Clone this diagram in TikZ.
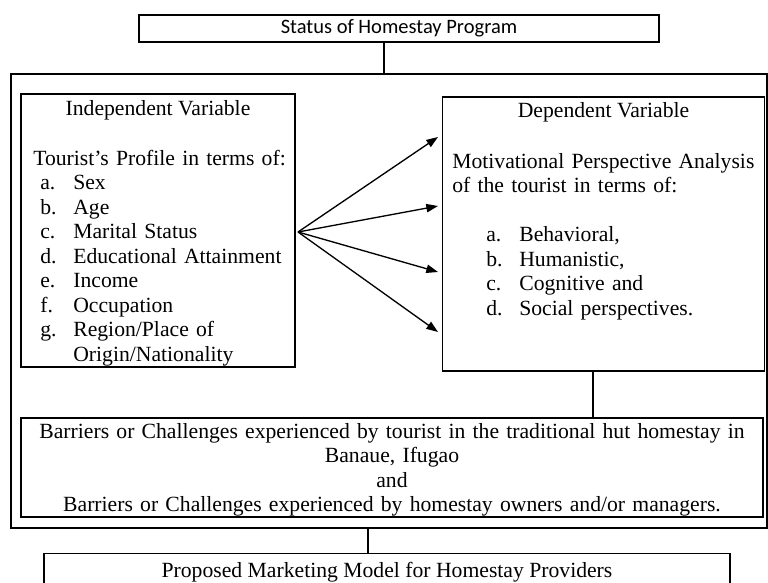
\documentclass[tikz,border=0pt]{standalone}
\usepackage{fontspec}
\setmainfont{Liberation Serif}
\newfontfamily\headfont{Carlito}
\usetikzlibrary{arrows.meta}
\usetikzlibrary{positioning}
\usetikzlibrary{calc}

\newcommand{\listitem}[2]{\hspace*{4.2pt}\makebox[19.8pt][l]{#1}#2}
\newcommand{\depitem}[2]{\hspace*{20.4pt}\makebox[19.8pt][l]{#1}#2}

\begin{document}
\begin{tikzpicture}[x=0.6pt,y=-0.6pt]
  \tikzset{
    box/.style={draw,line width=0.8pt,inner sep=0pt},
    txt/.style={inner sep=0pt,font=\fontsize{13}{14.7}\selectfont},
    link/.style={line width=0.8pt},
    arr/.style={line width=0.8pt,-{Triangle[length=7pt,width=5pt]}}
  }
    \clip (0,0) rectangle (768,582);
    %TOP BOX
    \node[box,minimum width=312pt,minimum height=16.2pt,font=\headfont\fontsize{12.3}{14}\selectfont] (status) at (399,28.5) {Status of Homestay Program};
    %FRAME
    \node[box,line width=1pt,minimum width=453.6pt,minimum height=272.4pt] (frame) at (389,301) {};
    %INDEPENDENT
    \node[box,minimum width=164.4pt,minimum height=163.8pt] (indep) at (158,230.5) {};
    \node[txt,anchor=base] (indephead) at (158,115) {Independent Variable};
    \node[txt,anchor=base west,text width=170pt,align=left] (indepbody) at (33,165) {Tourist's Profile in terms of:\\
      \listitem{a.}{Sex}\\
      \listitem{b.}{Age}\\
      \listitem{c.}{Marital Status}\\
      \listitem{d.}{Educational Attainment}\\
      \listitem{e.}{Income}\\
      \listitem{f.}{Occupation}\\
      \listitem{g.}{Region/Place of}\\
      \hspace*{24pt}Origin/Nationality};
    %DEPENDENT
    \node[box,minimum width=193.2pt,minimum height=164.4pt] (dep) at (603.5,234) {};
    \node[txt,anchor=base] (dephead) at (603.5,117) {Dependent Variable};
    \node[txt,anchor=base west,text width=190pt,align=left] (depbody) at (452,168) {Motivational Perspective Analysis\\
      of the tourist in terms of:\\[14.7pt]
      \depitem{a.}{Behavioral,}\\
      \depitem{b.}{Humanistic,}\\
      \depitem{c.}{Cognitive and}\\
      \depitem{d.}{Social perspectives.}};
    %BARRIERS
    \node[box,minimum width=445.2pt,minimum height=59.4pt] (barr) at (392,467.5) {};
    \node[txt,anchor=base,text width=450pt,align=center] (barrtxt) at (392,438) {Barriers or Challenges experienced by tourist in the traditional hut homestay in\\
      Banaue, Ifugao\\
      and\\
      Barriers or Challenges experienced by homestay owners and/or managers.};
    %PROPOSED
    \node[box,txt,anchor=north,minimum width=411.6pt,text height=14.4pt,text depth=20pt] (prop) at (387,553) {Proposed Marketing Model for Homestay Providers};

    %LINKS
    \draw[link] ([xshift=-9pt]status.south) -- ([xshift=-9pt]status.south |- frame.north);
    \draw[link] ([xshift=-6.3pt]dep.south) -- ([xshift=-6.3pt]dep.south |- barr.north);
    \draw[link] ([xshift=-12.6pt]frame.south) -- ([xshift=-12.6pt]frame.south |- prop.north);
    \coordinate (fan) at (298,232);
    \foreach \n/\y in {1/137,2/206,3/272,4/332} {
      \coordinate (tip\n) at (438,\y);
      \draw[arr] (fan) -- (tip\n);
    }
  \end{tikzpicture}
\end{document}
